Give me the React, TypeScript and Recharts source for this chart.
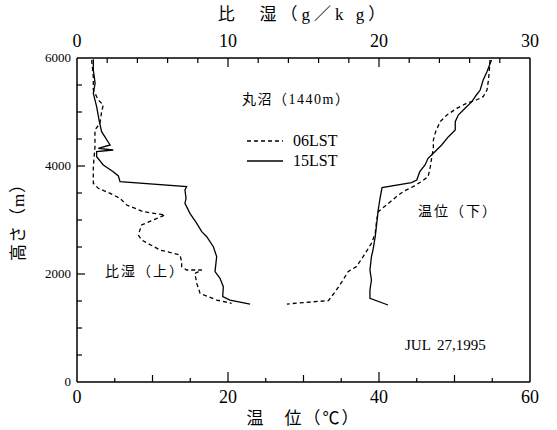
import React from "react";
import { Label, Legend, Line, LineChart, XAxis, YAxis } from "recharts";

const FONT = '"Liberation Serif", "Times New Roman", "Noto Sans CJK JP", serif';

// specific humidity (g/kg), read along height (m)
const q06Height = [5963, 5654, 5407, 5222, 5130, 5006, 4790, 4667, 4358, 3987, 3679, 3587, 3494, 3401, 3278, 3154, 3093, 2907, 2722, 2630, 2444, 2352, 2228, 2136, 2074, 2074, 2012, 1827, 1642, 1518, 1457];
const q06Value = [0.97, 1.08, 1.08, 1.41, 1.74, 1.63, 1.52, 1.19, 1.19, 1.08, 1.08, 1.41, 2.19, 2.85, 3.29, 4.39, 5.83, 4.28, 4.06, 4.28, 5.5, 6.82, 6.93, 6.93, 7.26, 8.26, 7.81, 7.93, 8.15, 9.25, 10.24];

const q15Height = [5976, 5778, 5531, 5346, 5099, 4821, 4636, 4389, 4327, 4296, 4265, 4173, 4019, 3895, 3815, 3710, 3617, 3556, 3401, 3309, 3124, 2938, 2784, 2691, 2506, 2321, 2043, 1920, 1765, 1580, 1518, 1444];
const q15Value = [1.08, 1.08, 1.2, 1.08, 1.3, 1.48, 1.63, 2.19, 1.41, 2.4, 1.3, 1.3, 1.74, 2.4, 2.74, 2.85, 7.26, 7.15, 7.22, 7.15, 7.48, 7.93, 8.26, 8.59, 9.03, 9.25, 9.14, 9.47, 9.69, 9.65, 10.13, 11.46];

// potential temperature (°C)
const t06Height = [5963, 5746, 5593, 5407, 5284, 5222, 5161, 5068, 4944, 4821, 4636, 4481, 4327, 4173, 3987, 3802, 3710, 3617, 3525, 3432, 3278, 3154, 3000, 2753, 2568, 2321, 2136, 2043, 1858, 1673, 1506, 1476, 1444];
const t06Value = [54.7, 54.6, 54.5, 54.3, 53.8, 52.9, 51.6, 50.3, 49.0, 48.1, 47.5, 47.2, 47.2, 47.0, 46.8, 46.5, 45.6, 44.5, 43.2, 42.3, 41.0, 39.9, 39.7, 39.5, 39.0, 37.9, 37.0, 35.9, 35.1, 34.2, 33.3, 30.4, 27.8];

const t15Height = [5963, 5746, 5593, 5407, 5315, 5191, 5068, 4944, 4821, 4667, 4543, 4389, 4265, 4142, 4019, 3895, 3741, 3691, 3599, 3370, 3185, 2938, 2691, 2444, 2321, 2074, 1889, 1704, 1549, 1426];
const t15Value = [54.9, 54.3, 53.8, 53.4, 52.9, 52.3, 51.4, 50.5, 50.1, 50.1, 49.2, 48.3, 47.4, 46.5, 46.1, 45.4, 45.0, 44.3, 40.4, 40.1, 39.9, 39.7, 39.5, 39.2, 39.0, 38.8, 39.0, 38.8, 38.8, 41.2];

const tempTicks = [0, 5, 10, 15, 20, 25, 30, 35, 40, 45, 50, 55, 60];
const qTicks = [0, 2, 4, 6, 8, 10, 12, 14, 16, 18, 20, 22, 24, 26, 28, 30];
const heightTicks = [0, 500, 1000, 1500, 2000, 2500, 3000, 3500, 4000, 4500, 5000, 5500, 6000];

const DASH: Record<string, string | undefined> = { "06LST": "4 3", "15LST": undefined };

const zip = (heights: number[], values: number[], key: string) =>
  heights.map((h, i) => ({ h, [key]: values[i] }));

const q06 = zip(q06Height, q06Value, "q");
const q15 = zip(q15Height, q15Value, "q");
const t06 = zip(t06Height, t06Value, "t");
const t15 = zip(t15Height, t15Value, "t");

const textStyle = { fontFamily: FONT };

function BottomTick({ x, y, payload }: any) {
  const v = payload.value;
  const len = v % 20 === 0 ? 10 : v % 10 === 0 ? 7 : 4;
  return (
    <g>
      {v > 0 && v < 60 && <line x1={x} x2={x} y1={y} y2={y - len} stroke="#000" strokeWidth={1.2} />}
      {v % 20 === 0 && (
        <text x={x} y={y + 21} textAnchor="middle" fontSize={18} style={textStyle} fill="#000">
          {v}
        </text>
      )}
    </g>
  );
}

function TopTick({ x, y, payload }: any) {
  const v = payload.value;
  const len = v % 10 === 0 ? 9 : 5;
  return (
    <g>
      {v > 0 && v < 30 && <line x1={x} x2={x} y1={y} y2={y + len} stroke="#000" strokeWidth={1.2} />}
      {v % 10 === 0 && (
        <text x={x} y={y - 11} textAnchor="middle" fontSize={18} style={textStyle} fill="#000">
          {v}
        </text>
      )}
    </g>
  );
}

function LeftTick({ x, y, payload }: any) {
  const v = payload.value;
  const len = v % 2000 === 0 ? 8 : 5;
  return (
    <g>
      {v > 0 && v < 6000 && <line x1={x} x2={x + len} y1={y} y2={y} stroke="#000" strokeWidth={1.2} />}
      {v % 2000 === 0 && (
        <text x={x - 6} y={y + 4} textAnchor="end" fontSize={13} style={textStyle} fill="#000">
          {v}
        </text>
      )}
    </g>
  );
}

function RightTick({ x, y, payload }: any) {
  const v = payload.value;
  if (v <= 0 || v >= 6000) return <g />;
  return <line x1={x} x2={x - 6} y1={y} y2={y} stroke="#000" strokeWidth={1.2} />;
}

function LegendBox({ payload }: any) {
  const items = (payload || []).filter((entry: any) => entry.value in DASH);
  return (
    <div style={{ fontFamily: FONT, color: "#000" }}>
      <div style={{ fontSize: 14, lineHeight: "20px", marginBottom: 21, letterSpacing: 1.5 }}>丸沼（1440m）</div>
      {items.map((entry: any) => (
        <div key={entry.value} style={{ display: "flex", alignItems: "center", height: 20, paddingLeft: 5 }}>
          <svg width={36} height={10}>
            <line x1={0} x2={36} y1={5} y2={5} stroke="#000" strokeWidth={1.3} strokeDasharray={DASH[entry.value]} />
          </svg>
          <span style={{ marginLeft: 10, fontSize: 16 }}>{entry.value}</span>
        </div>
      ))}
    </div>
  );
}

const note = (left: number, top: number, size: number) => ({
  position: "absolute" as const,
  left,
  top,
  fontSize: size,
  lineHeight: "20px",
  fontFamily: FONT,
  color: "#000",
  whiteSpace: "nowrap" as const,
});

export default function App() {
  return (
    <div style={{ position: "absolute", left: 0, top: 0, width: 557, height: 430, background: "#fff" }}>
      <LineChart width={557} height={430} margin={{ top: 0, right: 0, bottom: 0, left: 0 }}>
        <XAxis
          xAxisId="t"
          dataKey="t"
          type="number"
          orientation="bottom"
          domain={[0, 60]}
          allowDataOverflow
          ticks={tempTicks}
          interval={0}
          height={48}
          tickSize={0}
          tickMargin={0}
          tickLine={false}
          tick={<BottomTick />}
          axisLine={{ stroke: "#000", strokeWidth: 1.5 }}
        >
          <Label
            content={({ viewBox }: any) => (
              <text x={viewBox.x + viewBox.width / 2} y={424} textAnchor="middle" fontSize={17} style={{ ...textStyle, letterSpacing: 2 }} fill="#000">
                温　位（℃）
              </text>
            )}
          />
        </XAxis>
        <XAxis
          xAxisId="q"
          dataKey="q"
          type="number"
          orientation="top"
          domain={[0, 30]}
          allowDataOverflow
          ticks={qTicks}
          interval={0}
          height={58}
          tickSize={0}
          tickMargin={0}
          tickLine={false}
          tick={<TopTick />}
          axisLine={{ stroke: "#000", strokeWidth: 1.5 }}
        >
          <Label
            content={({ viewBox }: any) => (
              <text x={viewBox.x + viewBox.width / 2} y={20} textAnchor="middle" fontSize={17} style={{ ...textStyle, letterSpacing: 4 }} fill="#000">
                比　湿（g／k g）
              </text>
            )}
          />
        </XAxis>
        <YAxis
          dataKey="h"
          type="number"
          domain={[0, 6000]}
          allowDataOverflow
          ticks={heightTicks}
          interval={0}
          width={77}
          tickSize={0}
          tickMargin={0}
          tickLine={false}
          tick={<LeftTick />}
          axisLine={{ stroke: "#000", strokeWidth: 1.5 }}
        >
          <Label
            content={() => (
              <text x={18} y={218} transform="rotate(-90 18 218)" textAnchor="middle" dominantBaseline="central" fontSize={17} style={{ ...textStyle, letterSpacing: 1 }} fill="#000">
                高さ（m）
              </text>
            )}
          />
        </YAxis>
        <YAxis
          yAxisId="right"
          type="number"
          orientation="right"
          domain={[0, 6000]}
          ticks={heightTicks}
          interval={0}
          width={27}
          tickSize={0}
          tickMargin={0}
          tickLine={false}
          tick={<RightTick />}
          axisLine={{ stroke: "#000", strokeWidth: 1.5 }}
        />
        <Line xAxisId="q" data={q06} dataKey="h" type="linear" stroke="#000" strokeWidth={1.3} strokeDasharray="4 3" dot={false} legendType="none" isAnimationActive={false} />
        <Line xAxisId="q" data={q15} dataKey="h" type="linear" stroke="#000" strokeWidth={1.3} dot={false} legendType="none" isAnimationActive={false} />
        <Line xAxisId="t" data={t06} dataKey="h" name="06LST" type="linear" stroke="#000" strokeWidth={1.3} strokeDasharray="4 3" dot={false} isAnimationActive={false} />
        <Line xAxisId="t" data={t15} dataKey="h" name="15LST" type="linear" stroke="#000" strokeWidth={1.3} dot={false} isAnimationActive={false} />
        <Legend
          layout="vertical"
          align="center"
          verticalAlign="middle"
          content={<LegendBox />}
          wrapperStyle={{ left: 242, top: 90, width: 150 }}
        />
      </LineChart>
      <div style={{ ...note(105, 262, 14), letterSpacing: 2 }}>比湿（上）</div>
      <div style={{ ...note(418, 202, 14), letterSpacing: 2 }}>温位（下）</div>
      <div style={{ ...note(405, 335, 15), wordSpacing: 3 }}>JUL 27,1995</div>
    </div>
  );
}
